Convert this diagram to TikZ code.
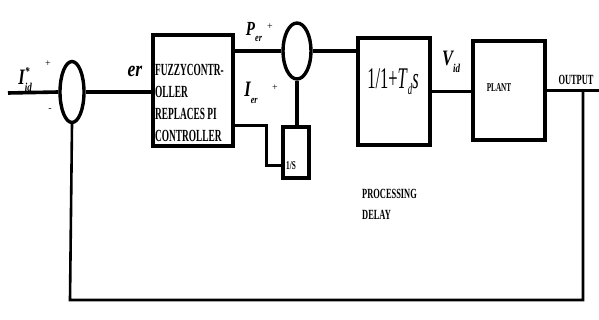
\documentclass[tikz,border=0pt]{standalone}
\usepackage{fontspec}
\setmainfont{Liberation Serif}
\usepackage{graphicx}
\usetikzlibrary{shapes.geometric,calc}
\newcommand{\cnd}[2][0.6]{\scalebox{#1}[1]{#2}}
\begin{document}
\begin{tikzpicture}[x=1pt,y=-1pt,
  blk/.style={draw,line width=3.2pt,inner sep=0pt},
  summ/.style={draw,ellipse,line width=3.4pt,inner sep=0pt},
  wire/.style={line width=3.6pt},
  fb/.style={line width=2.6pt},
  lbl/.style={inner sep=0pt}]
\useasboundingbox (0,0) rectangle (599,320);
% blocks
\node[summ,minimum width=24pt,minimum height=61pt] (sum1) at (72,92) {};
\node[blk,minimum width=80pt,minimum height=111pt] (fuzzy) at (193,90.5) {};
\node[summ,minimum width=28pt,minimum height=56pt] (sum2) at (297,51) {};
\node[blk,minimum width=26pt,minimum height=51pt] (integ) at (296,152.5) {};
\node[blk,minimum width=72pt,minimum height=107pt] (delay) at (394,91.5) {};
\node[blk,minimum width=72pt,minimum height=99pt] (plant) at (509,90.5) {};
\coordinate (in) at (8,93);
\coordinate (out) at (599,90.5);
\coordinate (tap) at (583,90.5);
% block texts
\node[lbl,font=\bfseries\fontsize{17}{22}\selectfont,align=left,anchor=north west] (fuzzytxt) at (155,64)
 {\cnd[0.55]{FUZZYCONTR-}\\\cnd[0.55]{OLLER}\\\cnd[0.55]{REPLACES PI}\\\cnd[0.55]{CONTROLLER}};
\node[lbl,font=\bfseries\fontsize{12}{12}\selectfont] (integtxt) at (291,166) {\cnd[0.6]{1/S}};
\node[lbl,font=\fontsize{30}{30}\selectfont] (delaytxt) at (393,82) {\cnd[0.55]{1/1+\textit{T}\raisebox{-6pt}{\fontsize{16}{16}\selectfont\textit{d}}\textit{s}}};
\node[lbl,font=\bfseries\fontsize{12}{12}\selectfont] (planttxt) at (499,88) {\cnd[0.6]{PLANT}};
\node[lbl,font=\bfseries\fontsize{14}{14}\selectfont] (outtxt) at (576,80) {\cnd[0.6]{OUTPUT}};
\node[lbl,font=\bfseries\fontsize{14}{21}\selectfont,align=left,anchor=north west] (proc) at (362,189) {\cnd[0.6]{PROCESSING}\\\cnd[0.6]{DELAY}};
% signal labels
\node[lbl,font=\bfseries\itshape\fontsize{22}{22}\selectfont] (lI) at (24,80) {\cnd[0.75]{I\raisebox{-7pt}{\fontsize{12}{12}\selectfont id}\hspace{-9pt}\raisebox{9pt}{\fontsize{12}{12}\selectfont *}}};
\node[lbl,font=\fontsize{10}{10}\selectfont] (p1) at (48,64) {+};
\node[lbl,font=\fontsize{10}{10}\selectfont] (m1) at (50,110) {-};
\node[lbl,font=\bfseries\itshape\fontsize{22}{22}\selectfont] (ler) at (135,71) {\cnd[0.8]{er}};
\node[lbl,font=\bfseries\itshape\fontsize{20}{20}\selectfont] (lP) at (254,32) {\cnd[0.75]{P\raisebox{-6pt}{\fontsize{11}{11}\selectfont er}}};
\node[lbl,font=\fontsize{10}{10}\selectfont] (p2) at (270,27) {+};
\node[lbl,font=\bfseries\itshape\fontsize{22}{22}\selectfont] (lIe) at (251,93) {\cnd[0.75]{I\raisebox{-7pt}{\fontsize{11}{11}\selectfont er}}};
\node[lbl,font=\fontsize{10}{10}\selectfont] (p3) at (275,88) {+};
\node[lbl,font=\bfseries\itshape\fontsize{22}{22}\selectfont] (lV) at (451,62) {\cnd[0.75]{V\raisebox{-7pt}{\fontsize{12}{12}\selectfont id}}};
% connectors
\draw[wire] (in) -- (sum1.west);
\draw[wire] (sum1.east) -- (fuzzy.west |- sum1.east);
\draw[wire] (fuzzy.east |- sum2.west) -- (sum2.west);
\draw[wire] ($(fuzzy.east)+(0,35)$) -| ($(integ.west)+(-15,13)$) -- ($(integ.west)+(0,13)$);
\draw[wire] (sum2.south) -- (integ.north -| sum2.south);
\draw[wire] (sum2.east) -- (delay.west |- sum2.east);
\draw[wire] (delay.east) -- (plant.west |- delay.east);
\draw[wire] (plant.east) -- (out);
\draw[fb] (tap) -- (583,300) -- (70,300) -- (sum1.south);
\end{tikzpicture}
\end{document}
